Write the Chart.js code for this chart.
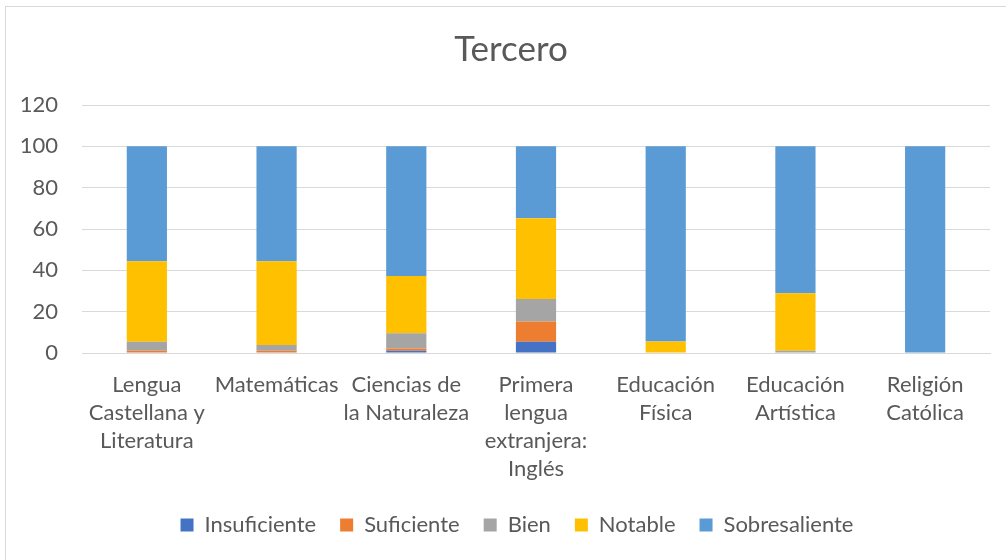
<!DOCTYPE html>
<html>
<head>
<meta charset="utf-8">
<script src="https://cdn.jsdelivr.net/npm/chart.js@4/dist/chart.umd.min.js"></script>
<style>
html,body{margin:0;padding:0;background:#fff;overflow:hidden;}
#wrap{position:relative;width:1006px;height:560px;overflow:hidden;}
#frame{position:absolute;left:5px;top:6px;width:1100px;height:700px;border-left:1px solid #d9d9d9;border-top:1px solid #d9d9d9;pointer-events:none;}
canvas{position:absolute;left:0;top:0;}
</style>
</head>
<body>
<div id="wrap">
<canvas id="c" width="1006" height="560"></canvas>
<div id="frame"></div>
</div>
<script>
const categories = [
  ["Lengua","Castellana y","Literatura"],
  ["Matemáticas"],
  ["Ciencias de","la Naturaleza"],
  ["Primera","lengua","extranjera:","Inglés"],
  ["Educación","Física"],
  ["Educación","Artística"],
  ["Religión","Católica"]
];
const insuficiente  = [0,   0,   1.1, 5.4,  0,    0,    0];
const suficiente    = [1.1, 1.1, 1.1, 9.8,  0,    0,    0];
const bien          = [4.4, 2.8, 7.3, 10.9, 0,    1.1,  0];
const notable       = [38.9,40.5,27.8,39.1, 5.6,  27.8, 0];
const sobresaliente = [55.6,55.6,62.7,34.8, 94.4, 71.1, 100];
const yTicks = [0,20,40,60,80,100,120];

const FONT = "Lato, 'Open Sans', sans-serif";
const TXT = '#595959';

// Shift title and legend horizontally to centre them on the chart frame, as in the reference
const shiftBoxes = {
  id: 'shiftBoxes',
  afterLayout(chart) {
    if (chart.titleBlock) { chart.titleBlock.left += 16; chart.titleBlock.right += 16; }
    if (chart.legend) { chart.legend.left += 22; chart.legend.right += 22; }
  }
};

new Chart(document.getElementById('c'), {
  type: 'bar',
  data: {
    labels: categories,
    datasets: [
      {label:'Insuficiente', data: insuficiente, backgroundColor:'#4472C4'},
      {label:'Suficiente', data: suficiente, backgroundColor:'#ED7D31'},
      {label:'Bien', data: bien, backgroundColor:'#A5A5A5'},
      {label:'Notable', data: notable, backgroundColor:'#FFC000'},
      {label:'Sobresaliente', data: sobresaliente, backgroundColor:'#5B9BD5'}
    ]
  },
  plugins: [shiftBoxes],
  options: {
    responsive: false,
    animation: false,
    devicePixelRatio: 1,
    layout: {padding: {left: 0, right: 16, top: 0, bottom: 14}},
    datasets: {bar: {categoryPercentage: 1, barPercentage: 0.31, borderWidth: 0}},
    plugins: {
      title: {
        display: true, text: 'Tercero', color: TXT,
        font: {family: FONT, size: 35, weight: 'normal', lineHeight: 1.2},
        padding: {top: 29, bottom: 34}
      },
      legend: {
        position: 'bottom',
        labels: {
          color: TXT, boxWidth: 13, boxHeight: 13, padding: 24,
          font: {family: FONT, size: 22}
        }
      },
      tooltip: {enabled: false}
    },
    scales: {
      x: {
        stacked: true,
        grid: {display: false, drawTicks: false},
        border: {display: true, color: '#d9d9d9', width: 1},
        ticks: {color: TXT, font: {family: FONT, size: 22, lineHeight: 1.27}, padding: 18, maxRotation: 0, autoSkip: false},
        afterFit: s => { s.height = 137; }
      },
      y: {
        stacked: true,
        min: 0, max: 120,
        afterBuildTicks: s => { s.ticks = yTicks.map(v => ({value: v})); },
        grid: {color: '#d9d9d9', drawTicks: false},
        border: {display: false},
        ticks: {color: TXT, font: {family: FONT, size: 22}, padding: 24},
        afterFit: s => { s.width = 82; }
      }
    }
  }
});
</script>
</body>
</html>
